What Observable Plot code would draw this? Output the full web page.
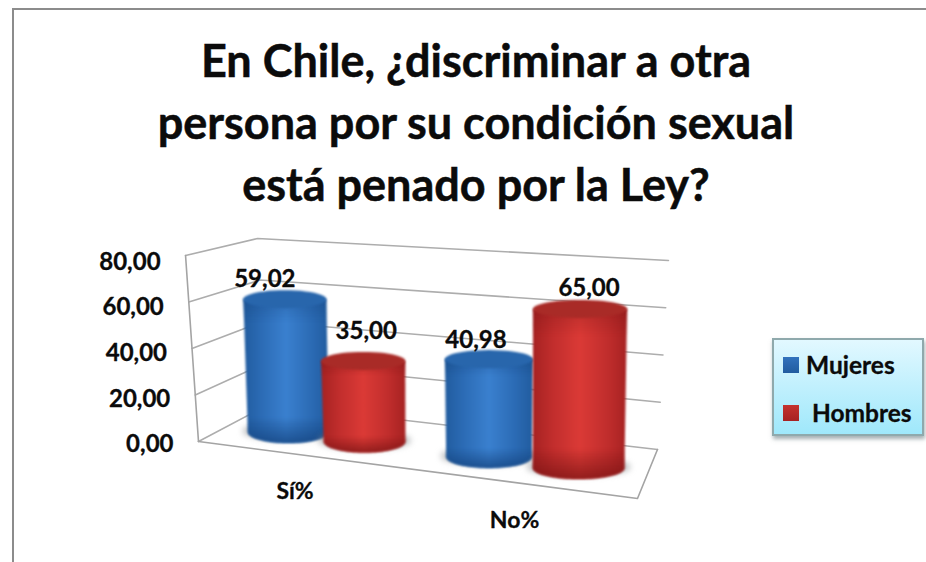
<!DOCTYPE html>
<html lang="es">
<head>
<meta charset="utf-8">
<script src="https://cdn.jsdelivr.net/npm/d3@7"></script>
<script src="https://cdn.jsdelivr.net/npm/@observablehq/plot@0.6"></script>
<style>
html,body{margin:0;padding:0;background:#fff}
#page{position:relative;width:926px;height:562px;overflow:hidden;font-family:Lato,sans-serif;font-weight:700;color:#0b0b0b}
#frame{position:absolute;left:12px;top:8px;width:930px;height:600px;border:2px solid #8c8c8c;box-sizing:border-box}
#title{position:absolute;left:13px;top:29px;width:926px;text-align:center;font-size:45px;line-height:62px;-webkit-text-stroke:.5px #0b0b0b}
#chart{position:absolute;left:0;top:0}
#legend{position:absolute;left:772px;top:338px;width:152px;height:98px;box-sizing:border-box;border:2px solid #8fa9ac;
 background:linear-gradient(#e2f8ff,#9fe8fb);box-shadow:1px 3px 4px rgba(90,110,115,.55)}
.item{position:absolute;font-size:24.5px;line-height:26px;white-space:nowrap;-webkit-text-stroke:.3px #0b0b0b}
.sw{position:absolute;width:16px;height:16px}
</style>
</head>
<body>
<div id="page">
<div id="frame"></div>
<div id="chart"></div>
<div id="title"></div>
<div id="legend"></div>
</div>
<script>
// ---- chart values ----
const titleLines = ["En Chile, ¿discriminar a otra", "persona por su condición sexual", "está penado por la Ley?"];
const categories = ["Sí%", "No%"];
const seriesNames = ["Mujeres", "Hombres"];
const mujeres = [59.02, 40.98];
const hombres = [35.00, 65.00];
const yTicks = [0, 20, 40, 60, 80];

// ---- 3D box, in the units of the x (category) and y (value) scales ----
const xDomain = [0, 2], xRange = [198, 637];
const yDomain = [0, 80], yRange = [441, 255];
const xUnit = (xDomain[1] - xDomain[0]) / (xRange[1] - xRange[0]);
const yUnit = (yDomain[1] - yDomain[0]) / (yRange[0] - yRange[1]);
const floorBox = {fl: [0, 0], fr: [2, -24.5], bl: [0.319, 15.9], br: [2.091, -3.44]};
const roofBox = {fl: [-0.059, 80], fr: [2.014, 65], bl: [0.269, 87.3], br: [2.141, 77.85]};
const lerp = (a, b, t) => a + (b - a) * t;
function project(u, d, v) {
  const t = v / 80;
  const at = (i) => {
    const corner = (k) => lerp(floorBox[k][i], roofBox[k][i], t);
    return lerp(lerp(corner("fl"), corner("fr"), u), lerp(corner("bl"), corner("br"), u), d);
  };
  return {x: at(0), y: at(1)};
}

// ---- cylinder placement on the floor (fractions of box width), radii, palettes ----
const depth = 0.45;
const slotU = [[0.14, 0.323], [0.622, 0.837]];
const radiusX = [[41.5, 42], [44, 47]];
const catLabelU = [0.22, 0.72];
const labelShift = [[[-20, -20], [3, -30]], [[-13, -19], [9, -21]]];
const palette = [
  {edge: "#215c9f", mid: "#2c6cb6", glow: "#3a80cf", cap: "#2866ac", swatch: "#3272bd", shade: "#123f78"},
  {edge: "#a62222", mid: "#c22e2d", glow: "#db3a36", cap: "#a92b27", swatch: "#c4322e", shade: "#741212"}
];
const fmt = (v) => v.toFixed(2).replace(".", ",");

const cylinders = [];
categories.forEach((c, i) => seriesNames.forEach((s, j) => {
  const value = (j === 0 ? mujeres : hombres)[i];
  const base = project(slotU[i][j], depth, 0);
  const raw = project(slotU[i][j], depth, value);
  const top = {x: base.x + (raw.x - base.x) * 0.5, y: raw.y};
  cylinders.push({id: `${i}${j}`, series: j, value, base, top, rx: radiusX[i][j] * xUnit, shift: labelShift[i][j]});
}));

function arc(c, rx, ry, a0, a1, n = 48) {
  return d3.range(n + 1).map((k) => {
    const a = lerp(a0, a1, k / n);
    return {x: c.x + rx * Math.cos(a), y: c.y + ry * Math.sin(a)};
  });
}
const bodyPts = (c) => arc(c.base, c.rx * 0.975, 11 * yUnit, Math.PI, 2 * Math.PI)
  .concat(arc(c.top, c.rx, 0.1 * yUnit, 0, Math.PI, 2));
const capPts = (c) => arc(c.top, c.rx, 9 * yUnit, 0, 2 * Math.PI);
const shadowPts = (c) => arc({x: c.base.x, y: c.base.y + 1 * yUnit}, c.rx * 1.1, 9 * yUnit, 0, 2 * Math.PI);

// gradients
function defs() {
  const svg = d3.create("svg:defs");
  palette.forEach((p, i) => {
    const g = svg.append("linearGradient").attr("id", `body${i}`);
    [[0, p.edge], [0.22, p.mid], [0.5, p.glow], [0.78, p.mid], [1, p.edge]].forEach(([o, col]) =>
      g.append("stop").attr("offset", o).attr("stop-color", col));
    const v = svg.append("linearGradient").attr("id", `shade${i}`).attr("x2", 0).attr("y2", 1);
    [[0, 0.3], [0.16, 0], [0.82, 0], [1, 0.7]].forEach(([o, a]) =>
      v.append("stop").attr("offset", o).attr("stop-color", p.shade).attr("stop-opacity", a));
  });
  return svg.node();
}

// grid and walls
const gridPts = yTicks.flatMap((v) => [project(0, 0, v), project(0, 1, v), project(1, 1, v)].map((p) => ({...p, z: v})));
const edgePts = [
  ...[project(0, 0, 0), project(0, 0, 80)].map((p) => ({...p, z: "left"})),
  ...[project(0, 0, 0), project(1, 0, 0), project(1, 1, 0)].map((p) => ({...p, z: "floor"}))
];

const cylinderMarks = cylinders.flatMap((c) => {
  const opts = {x: "x", y: "y", stroke: "none", curve: "linear"};
  return [
    Plot.line(shadowPts(c), {...opts, fill: "#85888c", fillOpacity: 0.6, imageFilter: "blur(3px)"}),
    Plot.line(bodyPts(c), {...opts, fill: `url(#body${c.series})`, imageFilter: "blur(.8px)"}),
    Plot.line(bodyPts(c), {...opts, fill: `url(#shade${c.series})`, imageFilter: "blur(.8px)"}),
    Plot.line(capPts(c), {...opts, fill: palette[c.series].cap, imageFilter: "blur(.8px)"})
  ];
});

const textStyle = {fontWeight: 700, fill: "#0b0b0b", stroke: "#0b0b0b", strokeWidth: 0.3};
const chart = Plot.plot({
  width: 926,
  height: 562,
  margin: 0,
  style: {background: "transparent", fontFamily: "Lato, sans-serif"},
  x: {type: "linear", domain: xDomain, range: xRange, axis: null},
  y: {type: "linear", domain: yDomain, range: yRange, axis: null},
  marks: [
    defs,
    Plot.line(gridPts, {x: "x", y: "y", z: "z", stroke: "#adadad", strokeWidth: 1.6, curve: "linear"}),
    Plot.line(edgePts, {x: "x", y: "y", z: "z", stroke: "#a4a4a4", strokeWidth: 1.6, curve: "linear"}),
    ...cylinderMarks,
    Plot.text(yTicks, {
      x: (v) => project(0, 0, v).x,
      y: (v) => project(0, 0, v * 0.98).y,
      text: (v) => fmt(v),
      dx: -25, dy: 3, textAnchor: "end",
      fontSize: 24, ...textStyle
    }),
    Plot.text(categories, {
      x: (c, i) => project(catLabelU[i], 0, 0).x,
      y: (c, i) => project(catLabelU[i], 0, 0).y,
      text: (c) => c,
      dy: 38,
      fontSize: 23, ...textStyle
    }),
    ...cylinders.map((c) => Plot.text([c], {
      x: (d) => d.top.x,
      y: (d) => d.top.y,
      text: (d) => fmt(d.value),
      dx: c.shift[0], dy: c.shift[1],
      fontSize: 24, ...textStyle
    }))
  ]
});
document.getElementById("chart").append(chart);

// title
const title = document.getElementById("title");
titleLines.forEach((t) => { const d = document.createElement("div"); d.textContent = t; title.append(d); });

// legend
const legend = document.getElementById("legend");
const legendLayout = [{sw: 9, text: 32, top: 17}, {sw: 9, text: 38, top: 65}];
seriesNames.forEach((s, j) => {
  const sw = document.createElement("div");
  sw.className = "sw";
  sw.style.cssText = `left:${legendLayout[j].sw}px;top:${legendLayout[j].top}px;background:linear-gradient(${palette[j].swatch},${palette[j].edge})`;
  const t = document.createElement("div");
  t.className = "item";
  t.textContent = s;
  t.style.cssText = `left:${legendLayout[j].text}px;top:${legendLayout[j].top - 5}px`;
  legend.append(sw, t);
});
</script>
</body>
</html>
